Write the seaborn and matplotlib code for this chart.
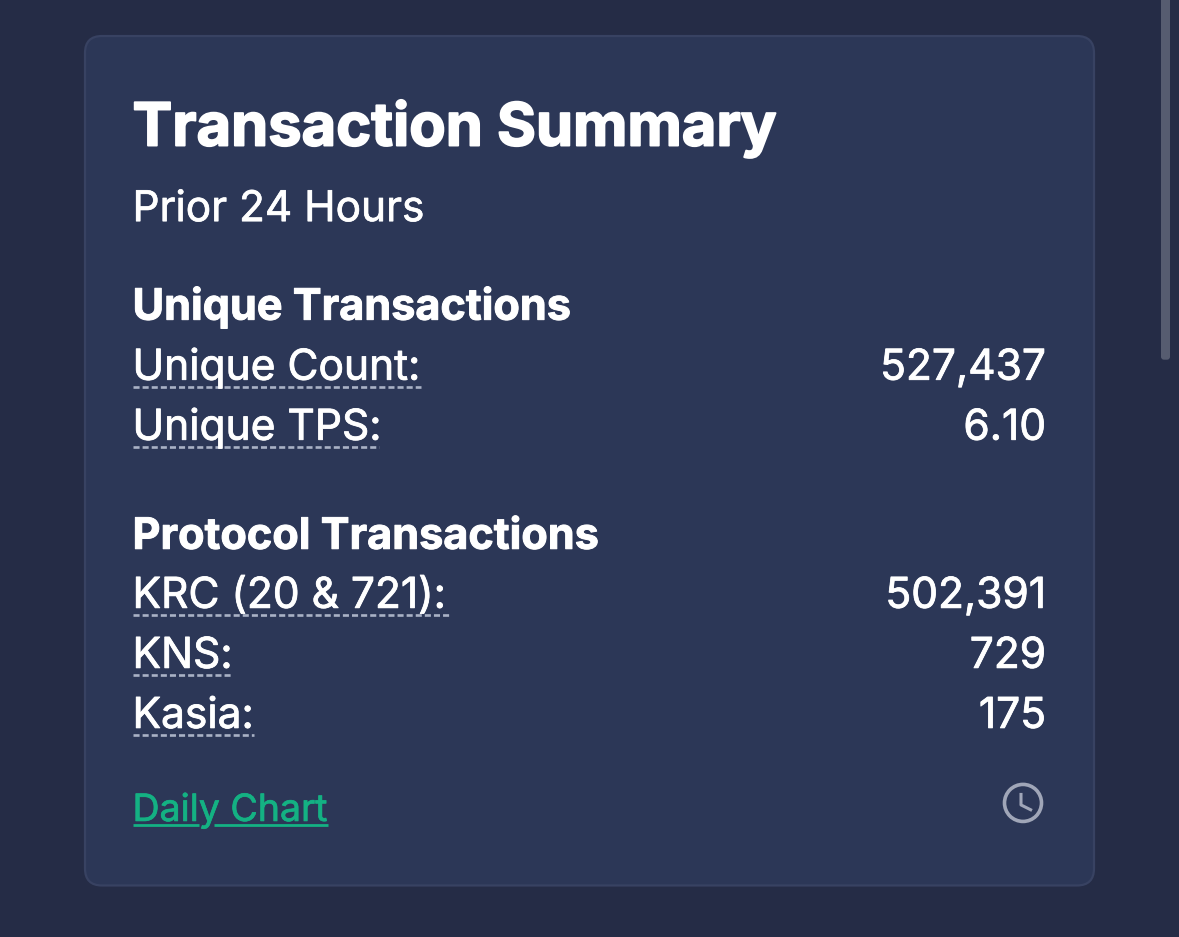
import matplotlib
matplotlib.use('Agg')
import matplotlib.pyplot as plt
import matplotlib.patheffects as pe
import seaborn as sns
from matplotlib.patches import FancyBboxPatch, Circle

title = 'Transaction Summary'
subtitle = 'Prior 24 Hours'
heading_unique = 'Unique Transactions'
unique_labels = ['Unique Count:', 'Unique TPS:']
unique_values = ['527,437', '6.10']
heading_protocol = 'Protocol Transactions'
protocol_labels = ['KRC (20 & 721):', 'KNS:', 'Kasia:']
protocol_values = ['502,391', '729', '175']
link_text = 'Daily Chart'

BG = '#252c46'
CARD = '#2c3757'
EDGE = '#384262'
DOTS = '#a9b1c5'
GREEN = '#14b183'

sns.set_theme(style='white', rc={'figure.facecolor': BG, 'axes.facecolor': BG})
plt.rcParams['font.family'] = ['Inter', 'DejaVu Sans']

fig = plt.figure(figsize=(11.79, 9.375), dpi=100)
ax = fig.add_axes([0, 0, 1, 1])
ax.set_xlim(0, 1179)
ax.set_ylim(937, 0)
ax.set_axis_off()
sns.despine(ax=ax, left=True, bottom=True)


def fat(width, color='white'):
    # утолщаем шрифт обводкой
    return [pe.withStroke(linewidth=width, foreground=color)]


# карточка
ax.add_patch(FancyBboxPatch((85, 36.5), 1009, 849, boxstyle='round,pad=0,rounding_size=17',
                            facecolor=CARD, edgecolor=EDGE, linewidth=1.6))
# полоса прокрутки
ax.add_patch(FancyBboxPatch((1161, -20), 9, 380, boxstyle='round,pad=0,rounding_size=3',
                            facecolor='#565c70', edgecolor='none'))

ax.text(132.5, 146, title, color='white', fontsize=42.9, fontweight='bold', va='baseline',
        path_effects=fat(1.3))
ax.text(132.5, 221.5, subtitle, color='white', fontsize=30.5, va='baseline', path_effects=fat(0.5))


def row(label, value, y, dots_end):
    ax.text(132.5, y, label, color='white', fontsize=30.6, va='baseline', path_effects=fat(0.6))
    ax.text(1046, y, value, color='white', fontsize=30.6, va='baseline', ha='right', path_effects=fat(0.6))
    ax.plot([133, dots_end], [y + 7, y + 7], color=DOTS, lw=1.9,
            linestyle=(0, (2.3, 1.15)), dash_capstyle='butt')


ax.text(132.5, 320, heading_unique, color='white', fontsize=31.1, fontweight='bold', va='baseline',
        path_effects=fat(0.7))
for label, value, y, end in zip(unique_labels, unique_values, [380, 440], [421, 379]):
    row(label, value, y, end)

ax.text(132.5, 549, heading_protocol, color='white', fontsize=31.1, fontweight='bold', va='baseline',
        path_effects=fat(0.7))
for label, value, y, end in zip(protocol_labels, protocol_values, [608, 668, 728], [451, 232, 254]):
    row(label, value, y, end)

# ссылка с подчеркиванием
ax.text(132.5, 821, link_text, color=GREEN, fontsize=27, va='baseline', path_effects=fat(0.5, GREEN))
ax.plot([133, 199], [825.5, 825.5], color=GREEN, lw=2, solid_capstyle='butt')
ax.plot([214, 328], [825.5, 825.5], color=GREEN, lw=2, solid_capstyle='butt')

# часы
ax.add_patch(Circle((1023, 803), 18.5, facecolor='none', edgecolor='#a0a6b8', linewidth=2.6))
ax.plot([1021, 1021, 1032], [793, 805, 810.5], color='#a0a6b8', lw=2.2, solid_capstyle='butt')

fig.savefig('out.png', dpi=100, facecolor=BG)
